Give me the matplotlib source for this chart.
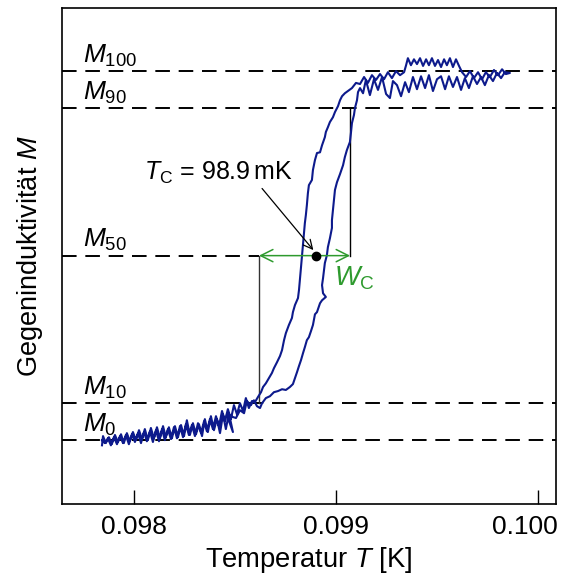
import matplotlib
matplotlib.use("Agg")
import matplotlib.pyplot as plt
import matplotlib.transforms as mtransforms
import numpy as np

plt.rcParams['font.family'] = ['Liberation Sans', 'DejaVu Sans']
plt.rcParams['mathtext.fontset'] = 'custom'
plt.rcParams['mathtext.rm'] = 'Liberation Sans'
plt.rcParams['mathtext.it'] = 'Liberation Sans:italic'
plt.rcParams['mathtext.bf'] = 'Liberation Sans:bold'

# ---- data (temperature in mK, mutual inductance in % of M100) ----
T_bottom_up = [97.842, 97.847, 97.861, 97.876, 97.891, 97.906, 97.921, 97.936, 97.950, 97.965,
               97.980, 97.995, 98.010, 98.025, 98.040, 98.054, 98.069, 98.084, 98.099, 98.114,
               98.129, 98.144, 98.158, 98.173, 98.188, 98.203, 98.218, 98.233, 98.248, 98.262,
               98.277, 98.292, 98.307, 98.322, 98.337, 98.351, 98.366, 98.381, 98.396, 98.411,
               98.426, 98.441, 98.455, 98.470, 98.490, 98.460, 98.505, 98.525, 98.545, 98.559,
               98.579, 98.594, 98.609, 98.624, 98.634]
M_bottom_up = [-1.4, 1.1, -0.8, 0.8, -1.0, 1.4, -0.5, 1.6, -0.8, 1.9,
               -0.3, 2.2, 0.0, 2.7, 0.3, 3.0, 0.0, 3.3, 0.5, 3.5,
               0.5, 3.8, 0.8, 3.5, 0.5, 3.8, 0.8, 4.1, 1.1, 5.4,
               1.4, 4.6, 1.6, 4.3, 1.1, 5.7, 2.2, 6.5, 2.7, 5.7,
               1.9, 7.0, 3.0, 7.3, 2.2, 6.8, 6.0, 8.1, 7.3, 10.6,
               9.5, 10.8, 9.2, 8.7, 10.0]

T_warm = [98.653, 98.673, 98.693, 98.713, 98.733, 98.752, 98.772, 98.787, 98.797, 98.807,
          98.817, 98.827, 98.837, 98.846, 98.856, 98.866, 98.876, 98.886, 98.896, 98.906,
          98.911, 98.921, 98.931, 98.950, 98.936, 98.931, 98.936, 98.941, 98.945, 98.955,
          98.960, 98.970, 98.980, 98.980, 98.985, 98.990, 98.995, 99.005, 99.020, 99.035,
          99.044, 99.054, 99.069, 99.074, 99.079, 99.089, 99.094, 99.104, 99.109, 99.119,
          99.134, 99.148, 99.168, 99.188, 99.208, 99.228, 99.248, 99.267, 99.282, 99.302,
          99.322, 99.342, 99.361, 99.381, 99.401, 99.421, 99.441, 99.460, 99.480, 99.500,
          99.520, 99.540, 99.559, 99.579, 99.599, 99.619, 99.638, 99.658, 99.678, 99.698,
          99.718, 99.737, 99.757, 99.777, 99.797, 99.817, 99.836, 99.861]
M_warm = [11.4, 11.9, 13.0, 13.3, 13.8, 13.6, 14.4, 15.2, 16.8, 18.4,
          20.1, 21.7, 23.6, 25.2, 27.1, 27.9, 29.5, 31.2, 34.1, 34.7,
          35.5, 37.1, 37.9, 38.8, 39.8, 42.0, 43.9, 46.1, 48.0, 50.1,
          52.3, 54.7, 57.5, 59.6, 62.3, 65.0, 67.8, 69.9, 72.1, 74.5,
          76.7, 78.6, 80.8, 83.2, 85.9, 88.1, 90.0, 92.1, 94.3, 95.4,
          94.0, 97.6, 93.5, 97.8, 94.9, 98.4, 93.8, 92.7, 97.3, 96.2,
          93.2, 97.0, 94.3, 98.4, 95.1, 98.6, 95.4, 98.9, 94.6, 97.8,
          98.6, 95.1, 98.6, 95.7, 98.4, 94.9, 98.1, 95.4, 98.6, 96.5,
          98.4, 96.2, 98.9, 97.3, 99.5, 98.1, 99.7, 99.5]

T_top_back = [99.841, 99.822, 99.802, 99.782, 99.762, 99.742, 99.723, 99.703, 99.683, 99.663,
              99.644, 99.624, 99.609, 99.594, 99.579, 99.564, 99.549, 99.535, 99.520, 99.505,
              99.490, 99.475, 99.460, 99.446, 99.431, 99.416, 99.401, 99.386, 99.371, 99.356,
              99.346, 99.337, 99.317, 99.297, 99.277, 99.257, 99.238, 99.218, 99.198, 99.178,
              99.158, 99.139, 99.119, 99.099, 99.079, 99.059, 99.044]
M_top_back = [99.2, 100.5, 98.9, 100.3, 98.4, 99.7, 97.8, 99.7, 98.1, 100.0,
              98.4, 99.7, 101.4, 103.2, 101.1, 103.5, 101.6, 103.2, 101.1, 103.0,
              101.4, 103.5, 101.6, 103.2, 101.4, 103.5, 101.9, 103.2, 101.6, 103.5,
              101.4, 99.7, 98.9, 100.0, 98.1, 99.7, 97.8, 99.2, 97.6, 98.9,
              96.8, 98.4, 96.5, 96.8, 95.4, 94.6, 94.0]

T_cool = [99.030, 99.020, 99.010, 98.995, 98.985, 98.970, 98.960, 98.950, 98.945, 98.931,
          98.921, 98.906, 98.896, 98.886, 98.881, 98.866, 98.861, 98.856, 98.851, 98.846,
          98.841, 98.837, 98.832, 98.827, 98.822, 98.817, 98.812, 98.797, 98.787, 98.782,
          98.767, 98.752, 98.743, 98.733, 98.723, 98.708, 98.693, 98.683, 98.668, 98.653,
          98.639, 98.629, 98.614, 98.599]
M_cool = [93.2, 92.1, 90.5, 88.9, 87.5, 86.2, 84.8, 83.5, 82.1, 79.9,
          78.0, 77.8, 75.9, 73.2, 70.5, 69.1, 66.9, 63.7, 61.0, 58.8,
          55.6, 52.8, 49.6, 46.9, 43.9, 40.7, 38.5, 36.6, 34.7, 33.1,
          31.2, 29.0, 27.1, 24.4, 22.8, 21.1, 19.5, 18.2, 16.8, 15.4,
          14.4, 13.0, 11.7, 10.3]

T_bottom_back = [98.584, 98.569, 98.554, 98.540, 98.525, 98.510, 98.495, 98.480, 98.465, 98.450,
                 98.436, 98.421, 98.406, 98.391, 98.376, 98.361, 98.347, 98.332, 98.317, 98.302,
                 98.287, 98.272, 98.257, 98.243, 98.228, 98.213, 98.198, 98.183, 98.168, 98.153,
                 98.139, 98.124, 98.109, 98.094, 98.079, 98.064, 98.050, 98.035, 98.020, 98.005,
                 97.990, 97.975, 97.960, 97.946, 97.931, 97.916, 97.901, 97.886, 97.871, 97.856,
                 97.842]
M_bottom_back = [10.6, 8.7, 11.4, 7.9, 10.0, 7.0, 9.5, 5.7, 8.4, 5.1,
                 7.9, 3.8, 6.5, 3.0, 5.7, 2.4, 5.1, 1.9, 4.6, 1.1,
                 4.1, 1.4, 4.3, 0.8, 3.8, 0.5, 3.5, 0.3, 3.0, 0.0,
                 3.0, -0.3, 2.7, -0.5, 2.4, -0.3, 2.2, -0.8, 1.9, -0.5,
                 1.6, -1.1, 1.4, -0.8, 1.1, -1.1, 0.8, -1.4, 0.5, -0.8,
                 0.0]

levels = [0, 10, 50, 90, 100]
level_labels = [r"$M_0$", r"$M_{10}$", r"$M_{50}$", r"$M_{90}$", r"$M_{100}$"]
T10_mK = 98.619   # left edge of width
T90_mK = 99.070   # right edge of width
Tc_mK = 98.9
xticks = [0.098, 0.099, 0.100]

# ---- figure ----
fig = plt.figure(figsize=(5.67, 5.81), dpi=100)
ax = fig.add_axes([62/567, 77/581, 494/567, 496/581])

T_all = np.concatenate([T_bottom_up, T_warm, T_top_back, T_cool, T_bottom_back]) / 1000.0
M_all = np.concatenate([M_bottom_up, M_warm, M_top_back, M_cool, M_bottom_back])

xmin, xmax = 0.097644, 0.100089
ax.set_xlim(xmin, xmax)
ax.set_ylim(-17.3, 117.1)

dash = (0, (7.5, 4.5))
for lv, lab in zip(levels, level_labels):
    if lv == 50:
        ax.plot([xmin, T10_mK / 1000], [lv, lv], color='black', lw=1.4, linestyle=dash, zorder=1)
    else:
        ax.plot([xmin, xmax], [lv, lv], color='black', lw=1.4, linestyle=dash, zorder=1)
    ax.text(0.097748, lv + 0.6, lab, fontsize=19, va='bottom', ha='left')

# vertical construction lines
ax.plot([T10_mK / 1000, T10_mK / 1000], [10, 50], color='#333333', lw=1.0, zorder=2)
ax.plot([T90_mK / 1000, T90_mK / 1000], [50, 90], color='black', lw=1.0, zorder=2)

ax.plot(T_all, M_all, color='#0d1a8c', lw=1.5, zorder=3)

# width arrow
green = '#2e9a2e'
ax.annotate('', xy=(T10_mK / 1000, 50), xytext=(T90_mK / 1000, 50),
            arrowprops=dict(arrowstyle='<->', color=green, lw=1.1, mutation_scale=22,
                            shrinkA=0, shrinkB=0), zorder=4)
ax.text(0.098988, 44.0, r"$W_\mathrm{C}$", color=green, fontsize=19.5, va='center', ha='left')

# Tc point and annotation
ax.plot([Tc_mK / 1000], [50], 'o', color='black', ms=6, zorder=5)
ax.annotate(r"$T_\mathrm{C}$ = 98.9$\,$mK", xy=(Tc_mK / 1000 - 0.000012, 51.5),
            xytext=(0.098050, 72.5), fontsize=18, ha='left', va='center',
            arrowprops=dict(arrowstyle='->', color='black', lw=0.9, mutation_scale=16,
                            shrinkA=0, shrinkB=0, relpos=(0.78, 0.0)))

ax.set_xticks(xticks)
ax.set_xticklabels([f"{v:.3f}" for v in xticks])
ax.set_yticks([])
ax.tick_params(axis='x', direction='in', length=10, width=1, labelsize=19, pad=8)
for s in ax.spines.values():
    s.set_linewidth(1.2)

# shift the last tick label left so it stays inside the figure
last = ax.get_xticklabels()[-1]
last.set_transform(last.get_transform() +
                   mtransforms.ScaledTranslation(-13 / 100, 0, fig.dpi_scale_trans))

ax.set_xlabel(r"Temperatur $T$ [K]", fontsize=19.7, labelpad=4)
ax.set_ylabel(r"Gegeninduktivität $M$", fontsize=19.5, labelpad=12)

fig.savefig("out.png", dpi=100)
